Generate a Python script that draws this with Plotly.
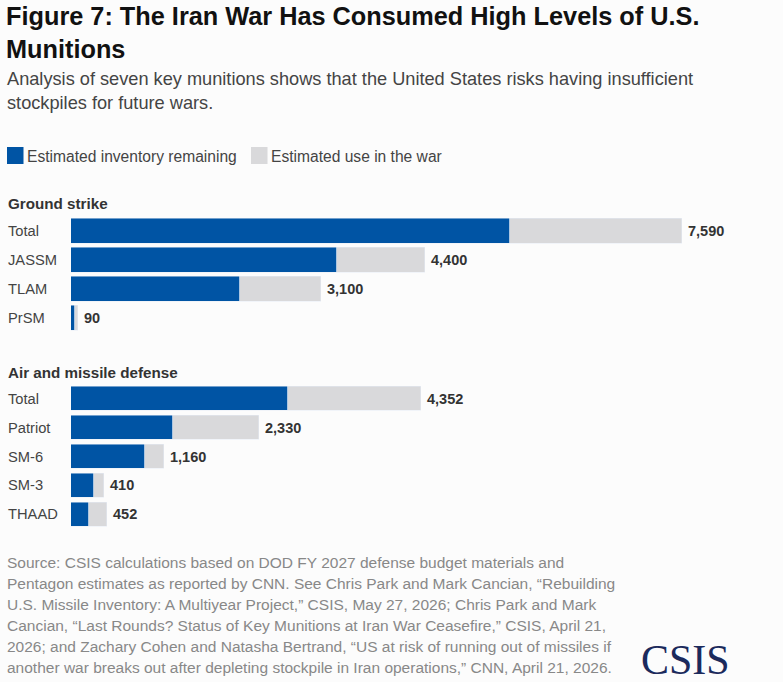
import plotly.graph_objects as go

# ---------------- data ----------------
ground_cats = ["Total", "JASSM", "TLAM", "PrSM"]
ground_total = [7590, 4400, 3100, 90]
ground_remaining = [5450, 3300, 2100, 50]

air_cats = ["Total", "Patriot", "SM-6", "SM-3", "THAAD"]
air_total = [4352, 2330, 1160, 410, 452]
air_remaining = [2700, 1270, 920, 290, 220]

ground_used = [t - r for t, r in zip(ground_total, ground_remaining)]
air_used = [t - r for t, r in zip(air_total, air_remaining)]

series_names = ["Estimated inventory remaining", "Estimated use in the war"]
section_titles = ["Ground strike", "Air and missile defense"]

title_lines = ["Figure 7: The Iran War Has Consumed High Levels of U.S.", "Munitions"]
subtitle_lines = [
    "Analysis of seven key munitions shows that the United States risks having insufficient",
    "stockpiles for future wars.",
]
source_lines = [
    "Source: CSIS calculations based on DOD FY 2027 defense budget materials and",
    "Pentagon estimates as reported by CNN. See Chris Park and Mark Cancian, \u201cRebuilding",
    "U.S. Missile Inventory: A Multiyear Project,\u201d CSIS, May 27, 2026; Chris Park and Mark",
    "Cancian, \u201cLast Rounds? Status of Key Munitions at Iran War Ceasefire,\u201d CSIS, April 21,",
    "2026; and Zachary Cohen and Natasha Bertrand, \u201cUS at risk of running out of missiles if",
    "another war breaks out after depleting stockpile in Iran operations,\u201d CNN, April 21, 2026.",
]

# ---------------- style ----------------
W, H = 783, 682
BLUE = "#0054a4"
GREY = "#d9d9db"
BG = "#fcfcfc"
SANS = "Liberation Sans, Arial, sans-serif"


def px_x(p):
    return p / W


def px_y(p):
    return 1 - p / H


bar_left, bar_right_px_for_max = 71, 682
x_max = (W - bar_left) / ((bar_right_px_for_max - bar_left) / max(ground_total))

fig = go.Figure()
fig.add_bar(y=ground_cats, x=ground_remaining, orientation="h", marker_color=BLUE,
            xaxis="x", yaxis="y", width=0.83, showlegend=False, name=series_names[0])
fig.add_bar(y=ground_cats, x=ground_used, orientation="h", marker_color=GREY,
            xaxis="x", yaxis="y", width=0.83, showlegend=False, name=series_names[1])
fig.add_bar(y=air_cats, x=air_remaining, orientation="h", marker_color=BLUE,
            xaxis="x2", yaxis="y2", width=0.83, showlegend=False, name=series_names[0])
fig.add_bar(y=air_cats, x=air_used, orientation="h", marker_color=GREY,
            xaxis="x2", yaxis="y2", width=0.83, showlegend=False, name=series_names[1])

ann = []
# titles
for i, t in enumerate(title_lines):
    ann.append(dict(text=f"<b>{t}</b>", x=px_x(4), y=px_y([16, 49][i]), xref="paper", yref="paper",
                    xanchor="left", yanchor="middle", showarrow=False,
                    font=dict(family=SANS, size=25.3, color="#111")))
for i, t in enumerate(subtitle_lines):
    ann.append(dict(text=t, x=px_x(5), y=px_y([79, 103][i]), xref="paper", yref="paper",
                    xanchor="left", yanchor="middle", showarrow=False,
                    font=dict(family=SANS, size=18.2, color="#444")))
# legend
leg_x = [7, 251]
leg_tx = [25, 269]
shapes = []
for i, name in enumerate(series_names):
    shapes.append(dict(type="rect", xref="paper", yref="paper",
                       x0=px_x(leg_x[i]), x1=px_x(leg_x[i] + 16.5),
                       y0=px_y(164), y1=px_y(147),
                       fillcolor=[BLUE, GREY][i], line_width=0))
    ann.append(dict(text=name, x=px_x(leg_tx[i]), y=px_y(156), xref="paper", yref="paper",
                    xanchor="left", yanchor="middle", showarrow=False,
                    font=dict(family=SANS, size=15.6, color="#444")))
# section titles
for i, t in enumerate(section_titles):
    ann.append(dict(text=f"<b>{t}</b>", x=px_x(6), y=px_y([204, 372][i]), xref="paper", yref="paper",
                    xanchor="left", yanchor="middle", showarrow=False,
                    font=dict(family=SANS, size=15.2, color="#333")))
# category labels and values
for cats, totals, xr, yr in [(ground_cats, ground_total, "x", "y"), (air_cats, air_total, "x2", "y2")]:
    for c, v in zip(cats, totals):
        ann.append(dict(text=c, x=px_x(6), y=c, xref="paper", yref=yr,
                        xanchor="left", yanchor="middle", showarrow=False,
                        font=dict(family=SANS, size=14.7, color="#444")))
        ann.append(dict(text=f"<b>{v:,}</b>", x=v, y=c, xref=xr, yref=yr, xshift=4,
                        xanchor="left", yanchor="middle", showarrow=False,
                        font=dict(family=SANS, size=14.5, color="#333")))
# source
for i, t in enumerate(source_lines):
    ann.append(dict(text=t, x=px_x(5), y=px_y(562 + 21 * i), xref="paper", yref="paper",
                    xanchor="left", yanchor="middle", showarrow=False,
                    font=dict(family=SANS, size=15.5, color="#888")))
ann.append(dict(text="CSIS", x=px_x(685), y=px_y(660), xref="paper", yref="paper",
                xanchor="center", yanchor="middle", showarrow=False,
                font=dict(family="Liberation Serif, serif", size=42, color="#1b2a5c")))

xcommon = dict(range=[0, x_max], domain=[px_x(bar_left), 1], visible=False, fixedrange=True)
fig.update_layout(
    width=W, height=H,
    margin=dict(l=0, r=0, t=0, b=0),
    paper_bgcolor=BG, plot_bgcolor=BG,
    barmode="stack", bargap=0,
    showlegend=False,
    xaxis=dict(**xcommon, anchor="y"),
    xaxis2=dict(**xcommon, anchor="y2"),
    yaxis=dict(domain=[px_y(332.5), px_y(216.5)], autorange="reversed", visible=False,
               anchor="x", categoryorder="array", categoryarray=ground_cats),
    yaxis2=dict(domain=[px_y(528.5), px_y(384.5)], autorange="reversed", visible=False,
                anchor="x2", categoryorder="array", categoryarray=air_cats),
    annotations=ann,
    shapes=shapes,
)

fig.write_html("out.html")
